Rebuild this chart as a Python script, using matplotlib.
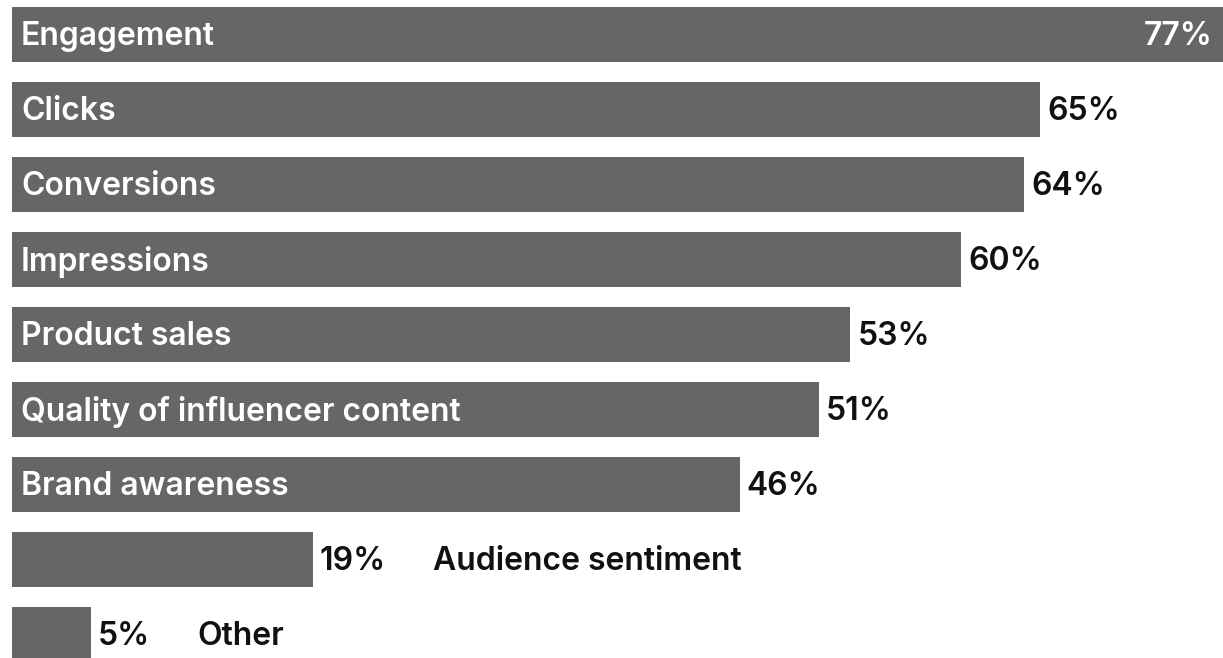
import matplotlib
matplotlib.use('Agg')
import matplotlib.pyplot as plt

plt.rcParams['font.family'] = ['Inter', 'DejaVu Sans']

categories = ['Engagement', 'Clicks', 'Conversions', 'Impressions', 'Product sales',
              'Quality of influencer content', 'Brand awareness', 'Audience sentiment', 'Other']
values = [77, 65, 64, 60, 53, 51, 46, 19, 5]
# short bars get the category name outside, after the value
outside = ['Audience sentiment', 'Other']

BAR = '#666666'
FS = 23
WT = 'semibold'
DY = -2  # nudge text down a little

fig = plt.figure(figsize=(12.23, 6.58), dpi=100)
ax = fig.add_axes([12 / 1223, 0, 1 - 12 / 1223, 1])
ax.set_xlim(0, (1223 - 12) / 15.82)
ax.set_ylim((658 - 34.5) / 75, -34.5 / 75)
ax.axis('off')

ypos = list(range(len(categories)))
ax.barh(ypos, values, height=55 / 75, color=BAR)

for y, cat, v in zip(ypos, categories, values):
    lab = f'{v}%'
    if v >= 70:
        ax.annotate(lab, xy=(1, y), xycoords=('axes fraction', 'data'), xytext=(-10, DY),
                    textcoords='offset pixels', ha='right', va='center',
                    fontsize=FS, fontweight=WT, color='white')
    else:
        t = ax.annotate(lab, xy=(v, y), xytext=(7, DY), textcoords='offset pixels',
                        ha='left', va='center', fontsize=FS, fontweight=WT, color='#111111')
    if cat in outside:
        ax.annotate(cat, xy=(1, 0.5), xycoords=t, xytext=(47, 0), textcoords='offset pixels',
                    ha='left', va='center', fontsize=FS, fontweight=WT, color='#111111')
    else:
        ax.annotate(cat, xy=(0, y), xytext=(9, DY), textcoords='offset pixels',
                    ha='left', va='center', fontsize=FS, fontweight=WT, color='white')

fig.savefig('out.png', dpi=100, facecolor='white')
